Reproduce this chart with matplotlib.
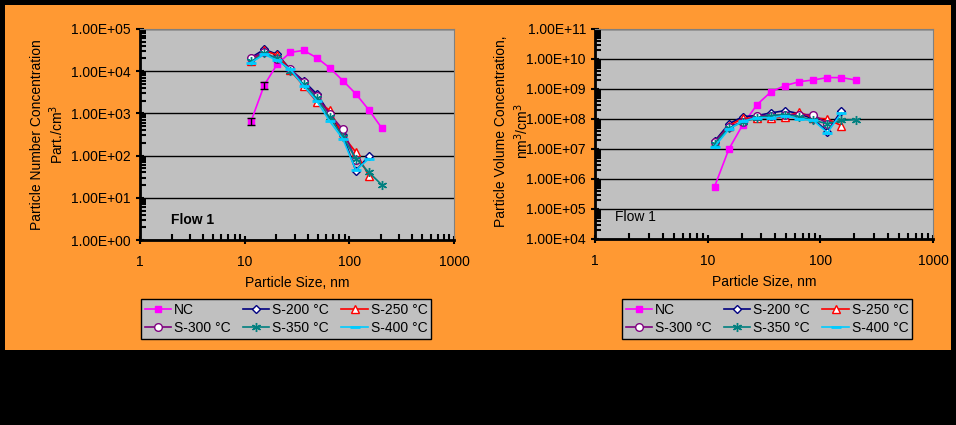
import matplotlib.pyplot as plt
import numpy as np
from matplotlib.patches import Rectangle
from matplotlib.ticker import FuncFormatter, LogLocator, NullFormatter

plt.rcParams['font.family'] = ['Liberation Sans', 'DejaVu Sans']

# particle size bins (nm)
sizes = [11.5, 15.4, 20.5, 27.4, 36.5, 48.7, 64.9, 86.6, 115.5, 154.0, 205.4]

# number concentration (part./cm3)
num_nc = [650, 4700, 14800, 28000, 31000, 21000, 12000, 6000, 2900, 1200, 440]
num_nc_err = [120, 900, 0, 0, 0, 0, 0, 0, 0, 0, 0]
num_s200 = [21000, 33000, 25000, 11000, 5900, 2900, 1000, 300, 44, 98]
num_s250 = [17000, 31000, 24000, 10500, 4500, 1900, 1200, 300, 120, 33]
num_s300 = [21000, 28000, 19000, 11000, 5500, 2600, 950, 420, 78]
num_s350 = [17000, 27000, 20000, 10000, 5000, 2300, 800, 280, 85, 40, 20]
num_s400 = [16000, 25000, 18000, 11000, 4500, 2000, 650, 250, 45, 85]

# volume concentration (nm3/cm3)
vol_nc = [5.5e5, 9.8e6, 6.5e7, 3.0e8, 8.1e8, 1.3e9, 1.75e9, 2.0e9, 2.4e9, 2.4e9, 2.0e9]
vol_s200 = [1.8e7, 6.8e7, 1.2e8, 1.3e8, 1.6e8, 1.9e8, 1.5e8, 1.0e8, 3.8e7, 1.9e8]
vol_s250 = [1.6e7, 6.0e7, 1.05e8, 1.1e8, 1.05e8, 1.2e8, 1.7e8, 1.1e8, 1.0e8, 6.0e7]
vol_s300 = [1.7e7, 5.5e7, 8.0e7, 1.3e8, 1.3e8, 1.4e8, 1.4e8, 1.4e8, 7.0e7]
vol_s350 = [1.5e7, 5.0e7, 8.0e7, 1.1e8, 1.3e8, 1.4e8, 1.2e8, 9.0e7, 7.0e7, 9.0e7, 9.5e7]
vol_s400 = [1.2e7, 4.5e7, 8.5e7, 1.1e8, 1.1e8, 1.3e8, 1.0e8, 9.0e7, 3.5e7, 1.6e8]

labels = ['NC', 'S-200 °C', 'S-250 °C', 'S-300 °C', 'S-350 °C', 'S-400 °C']

styles = [
    dict(color='#FF00FF', marker='s', ms=4.5, mfc='#FF00FF', mec='#FF00FF'),
    dict(color='#000080', marker='D', ms=4, mfc='white', mec='#000080'),
    dict(color='#FF0000', marker='^', ms=5.5, mfc='white', mec='#FF0000'),
    dict(color='#800080', marker='o', ms=5.5, mfc='white', mec='#800080'),
    dict(color='#008080', marker=(6, 2, 0), ms=6.5, mfc='#008080', mec='#008080'),
    dict(color='#00CCFF', marker='_', ms=7, mfc='#00CCFF', mec='#00CCFF', mew=2),
]

fig = plt.figure(figsize=(9.56, 4.25), dpi=100)
fig.patch.set_facecolor('black')
fig.patches.append(Rectangle((5 / 956, 75 / 425), 946 / 956, 345 / 425,
                             transform=fig.transFigure, facecolor='#FF9933',
                             edgecolor='none', zorder=-1))


def sci(v, pos):
    e = int(round(np.log10(v)))
    return '1.00E%s%02d' % ('+' if e >= 0 else '-', abs(e))


def setup(ax, ymin, ymax):
    ax.set_facecolor('#C0C0C0')
    ax.set_xscale('log')
    ax.set_yscale('log')
    ax.set_xlim(1, 1000)
    ax.set_ylim(ymin, ymax)
    ax.yaxis.set_major_locator(LogLocator(base=10, numticks=20))
    ax.yaxis.set_minor_locator(LogLocator(base=10, subs=np.arange(2, 10), numticks=20))
    ax.yaxis.set_major_formatter(FuncFormatter(sci))
    ax.yaxis.set_minor_formatter(NullFormatter())
    ax.xaxis.set_major_formatter(FuncFormatter(lambda v, p: '%d' % v))
    ax.xaxis.set_minor_formatter(NullFormatter())
    ax.grid(True, which='major', axis='y', color='black', lw=1)
    for s in ['top', 'right']:
        ax.spines[s].set_color('#808080')
    for s in ['left', 'bottom']:
        ax.spines[s].set_linewidth(2)
    ax.tick_params(which='major', direction='inout', length=6, width=1.5,
                   labelsize=10, colors='black')
    ax.tick_params(which='minor', direction='in', length=4, width=1.5)
    ax.tick_params(axis='x', which='major', pad=8)
    ax.set_xlabel('Particle Size, nm', fontsize=10, labelpad=5)


def add_legend(ax, handles, xc):
    # matplotlib fills legend columns first; reorder so rows read like the original
    order = [0, 3, 1, 4, 2, 5]
    ax.legend(handles=[handles[i] for i in order], loc='upper center',
              bbox_to_anchor=(xc / 956, 126 / 425), bbox_transform=fig.transFigure,
              ncol=3, fontsize=10, frameon=True, facecolor='#C0C0C0',
              edgecolor='black', framealpha=1, fancybox=False, borderaxespad=0,
              handlelength=1.9, handletextpad=0.2, columnspacing=0.9,
              borderpad=0.3, labelspacing=0.25)


# left: number concentration
ax1 = fig.add_axes([140 / 956, 185 / 425, 314 / 956, 211 / 425])
setup(ax1, 1, 1e5)
num_series = [num_nc, num_s200, num_s250, num_s300, num_s350, num_s400]
handles = []
for lab, vals, st in zip(labels, num_series, styles):
    h, = ax1.plot(sizes[:len(vals)], vals, lw=1.2, label=lab, **st)
    handles.append(h)
ax1.errorbar(sizes[:2], num_nc[:2], yerr=num_nc_err[:2], fmt='none',
             ecolor='black', elinewidth=1, capsize=3)
ax1.text(0.10, 0.095, 'Flow 1', transform=ax1.transAxes, fontsize=10,
         fontweight='bold', va='center')
ax1.set_ylabel('Particle Number Concentration\nPart./cm$^3$', fontsize=10,
               labelpad=4)
add_legend(ax1, handles, 286)

# right: volume concentration
ax2 = fig.add_axes([595 / 956, 186 / 425, 338 / 956, 210 / 425])
setup(ax2, 1e4, 1e11)
vol_series = [vol_nc, vol_s200, vol_s250, vol_s300, vol_s350, vol_s400]
handles = []
for lab, vals, st in zip(labels, vol_series, styles):
    h, = ax2.plot(sizes[:len(vals)], vals, lw=1.2, label=lab, **st)
    handles.append(h)
ax2.text(0.06, 0.105, 'Flow 1', transform=ax2.transAxes, fontsize=10, va='center')
ax2.text(501 / 956, 294 / 425, 'Particle Volume Concentration,', transform=fig.transFigure,
         rotation=90, ha='center', va='center', fontsize=10)
ax2.text(522 / 956, 294 / 425, 'nm$^3$/cm$^3$', transform=fig.transFigure,
         rotation=90, ha='center', va='center', fontsize=10)
add_legend(ax2, handles, 767)

fig.savefig('out.png', dpi=100, facecolor=fig.get_facecolor())
